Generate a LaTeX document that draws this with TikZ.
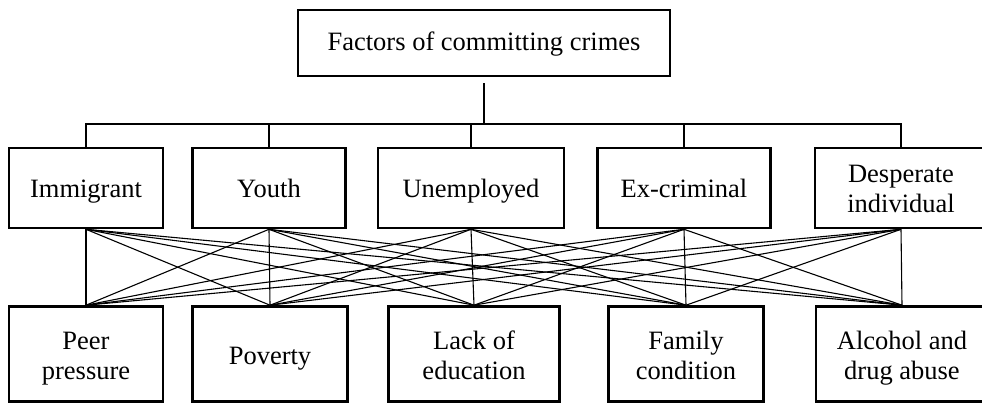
\documentclass[tikz,border=0pt]{standalone}
\usepackage{fontspec}
\setmainfont{Liberation Serif}
\usepackage{tikz}

\begin{document}
\begin{tikzpicture}[x=1pt,y=-1pt,
    box/.style={draw,line width=2.6pt,inner sep=0pt,align=flush center,text width=145pt,
      font=\fontsize{26.5}{30}\selectfont,
      execute at begin node={\rule{0pt}{28pt}},
      execute at end node={\rule[-8pt]{0pt}{8pt}}},
    link/.style={line width=1.1pt}]
  \useasboundingbox (0,0) rectangle (982,403);
  \clip (0,0) rectangle (982,403);
  % root
  \node[box,text width=340pt,minimum width=372pt,minimum height=66pt,
    execute at begin node={\rule{0pt}{20pt}},
    execute at end node={\rule[-12pt]{0pt}{12pt}}] (root) at (484,43) {Factors of committing crimes};
  % groups of people
  \node[box,minimum width=154pt,minimum height=80pt] (imm) at (86,188) {Immigrant};
  \node[box,minimum width=153pt,minimum height=80pt] (youth) at (269,188) {Youth};
  \node[box,minimum width=186pt,minimum height=80pt] (unemp) at (471,188) {Unemployed};
  \node[box,minimum width=173pt,minimum height=80pt] (excrim) at (684,188) {Ex-criminal};
  \node[box,minimum width=172pt,minimum height=80pt] (desp) at (901,188) {Desperate\\individual};
  % causes
  \node[box,minimum width=154pt,minimum height=95pt] (peer) at (86,354) {Peer\\pressure};
  \node[box,minimum width=155pt,minimum height=95pt] (poverty) at (270,354) {Poverty};
  \node[box,minimum width=171pt,minimum height=95pt] (lack) at (474,354) {Lack of\\education};
  \node[box,minimum width=155pt,minimum height=95pt] (family) at (686,354) {Family\\condition};
  \node[box,minimum width=172pt,minimum height=95pt] (alcohol) at (902,354) {Alcohol and\\drug abuse};
  % tree from the root
  \coordinate (bus) at (484,124);
  \draw[link,shorten <=6pt] (root.south) -- (bus);
  \draw[link] (imm.north) |- (bus) -| (desp.north);
  \foreach \g in {youth,unemp,excrim}
    \draw[link] (\g.north) -- (\g.north |- bus);
  % every group to every cause
  \foreach \g in {imm,youth,unemp,excrim,desp}
    \foreach \c in {peer,poverty,lack,family,alcohol}
      \draw[link] (\g.south) -- (\c.north);
\end{tikzpicture}
\end{document}
